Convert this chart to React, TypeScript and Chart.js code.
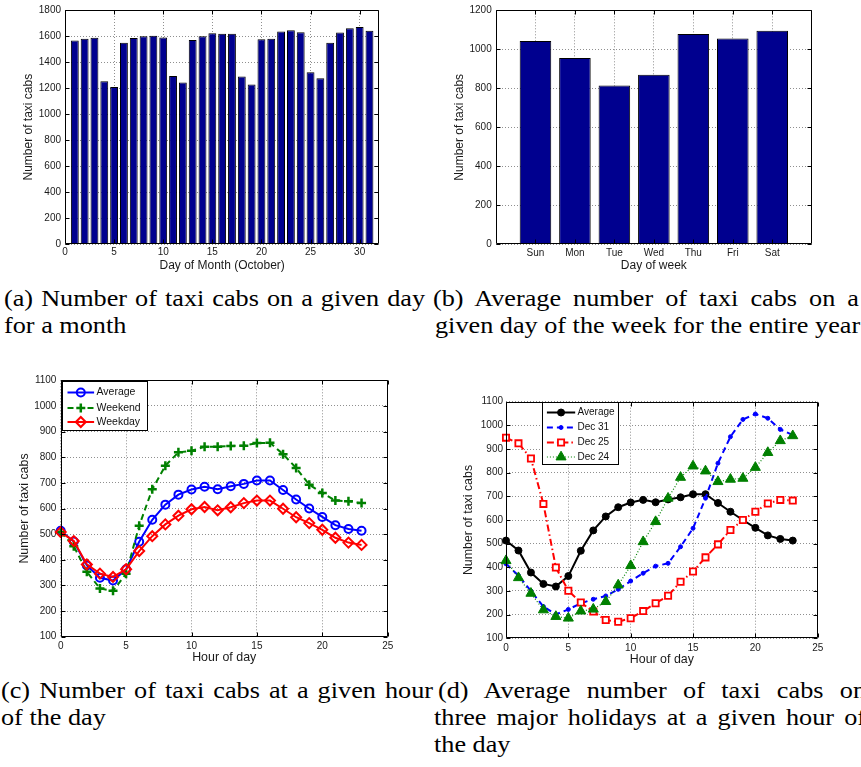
import React, { useEffect, useRef } from 'react';
import { Chart, registerables } from 'chart.js';
import { drawPoint } from 'chart.js/helpers';

Chart.register(...registerables);

const SANS = '"Liberation Sans", Arial, Helvetica, sans-serif';
const SERIF = '"Liberation Serif", "Times New Roman", serif';

// ---------- (a) taxi cabs per day of October ----------
const octoberDays = [1, 2, 3, 4, 5, 6, 7, 8, 9, 10, 11, 12, 13, 14, 15, 16, 17, 18, 19, 20, 21, 22, 23, 24, 25, 26, 27, 28, 29, 30, 31];
const cabsPerDay = [1566, 1579, 1587, 1253, 1208, 1548, 1584, 1599, 1602, 1589, 1292, 1243, 1569, 1599, 1622, 1617, 1617, 1289, 1228, 1576, 1579, 1635, 1645, 1630, 1322, 1276, 1548, 1627, 1660, 1670, 1640];
const dayTicks = [0, 5, 10, 15, 20, 25, 30];
const cabsTicksA = [0, 200, 400, 600, 800, 1000, 1200, 1400, 1600, 1800];

// ---------- (b) average per day of week ----------
const weekDays = ['Sun', 'Mon', 'Tue', 'Wed', 'Thu', 'Fri', 'Sat'];
const weekDayPos = [1, 2, 3, 4, 5, 6, 7];
const cabsPerWeekday = [1042, 956, 814, 869, 1078, 1056, 1095];
const cabsTicksB = [0, 200, 400, 600, 800, 1000, 1200];

// ---------- (c) / (d) per hour ----------
const hours = [0, 1, 2, 3, 4, 5, 6, 7, 8, 9, 10, 11, 12, 13, 14, 15, 16, 17, 18, 19, 20, 21, 22, 23];
const hourTicks = [0, 5, 10, 15, 20, 25];
const cabsTicksHour = [100, 200, 300, 400, 500, 600, 700, 800, 900, 1000, 1100];
const averageHour = [513, 471, 378, 330, 319, 363, 470, 556, 615, 654, 674, 685, 675, 687, 696, 709, 709, 672, 635, 600, 567, 535, 520, 513];
const weekendHour = [508, 453, 353, 288, 279, 346, 533, 675, 767, 819, 825, 841, 841, 844, 845, 855, 856, 812, 758, 693, 660, 631, 628, 621];
const weekdayHour = [508, 473, 382, 346, 333, 363, 434, 492, 538, 572, 597, 606, 593, 605, 621, 631, 631, 599, 566, 543, 517, 486, 467, 458];
const dec31Hour = [415, 365, 300, 234, 201, 222, 248, 265, 279, 307, 342, 375, 405, 417, 487, 565, 692, 840, 952, 1025, 1048, 1030, 983, 959];
const dec25Hour = [948, 924, 860, 668, 399, 301, 251, 213, 177, 170, 185, 215, 248, 280, 339, 382, 442, 497, 558, 600, 635, 670, 685, 682];
const dec24Hour = [428, 356, 290, 220, 192, 185, 215, 223, 255, 325, 407, 508, 593, 692, 780, 828, 807, 762, 772, 776, 822, 885, 935, 956];

const pts = (xs: number[], ys: number[]) => xs.map((x, i) => ({ x, y: ys[i] }));

type AxisCfg = {
  min: number; max: number; tickValues: number[]; labels?: string[];
  title: string; titleSize: number; titlePad: number; tickPad: number; size: number; horizontal: boolean;
};

function axis(c: AxisCfg): any {
  return {
    type: 'linear',
    min: c.min,
    max: c.max,
    offset: false,
    afterBuildTicks: (s: any) => { s.ticks = c.tickValues.map((v) => ({ value: v })); },
    afterFit: (s: any) => { if (c.horizontal) s.height = c.size; else s.width = c.size; },
    ticks: {
      autoSkip: false, maxRotation: 0, minRotation: 0,
      padding: c.tickPad,
      color: '#1a1a1a',
      font: { family: SANS, size: 10 },
      callback: (v: number) => {
        if (c.labels) { const i = c.tickValues.indexOf(v); return i >= 0 ? c.labels[i] : ''; }
        return String(v);
      },
    },
    grid: { display: true, color: '#8f8f8f', lineWidth: 1, drawTicks: false, offset: false },
    border: { display: false, dash: [1, 2] },
    title: {
      display: true, text: c.title, color: '#1a1a1a',
      font: { family: SANS, size: c.titleSize },
      padding: c.horizontal ? { top: 0, bottom: c.titlePad } : { top: c.titlePad, bottom: 0 },
    },
  };
}

type LegendCfg = { dx: number; dy: number; w: number; h: number; rows: number[]; line0: number; line1: number; textX: number; fontSize: number };

function framePlugin(legend?: LegendCfg): any {
  return {
    id: 'matlabFrame',
    afterDraw(chart: any) {
      const { ctx, chartArea: a, scales } = chart;
      const L = Math.round(a.left) + 0.5, R = Math.round(a.right) - 0.5;
      const T = Math.round(a.top) + 0.5, B = Math.round(a.bottom) - 0.5;
      ctx.save();
      ctx.setLineDash([]);
      ctx.strokeStyle = '#000';
      ctx.lineWidth = 1;
      ctx.beginPath();
      ctx.rect(L, T, R - L, B - T);
      ctx.stroke();
      const tl = 4;
      ctx.beginPath();
      for (const t of scales.x.ticks) {
        const p = Math.round(scales.x.getPixelForValue(t.value)) + 0.5;
        ctx.moveTo(p, B); ctx.lineTo(p, B - tl);
        ctx.moveTo(p, T); ctx.lineTo(p, T + tl);
      }
      for (const t of scales.y.ticks) {
        const p = Math.round(scales.y.getPixelForValue(t.value)) + 0.5;
        ctx.moveTo(L, p); ctx.lineTo(L + tl, p);
        ctx.moveTo(R, p); ctx.lineTo(R - tl, p);
      }
      ctx.stroke();

      if (legend) {
        const bx = Math.round(a.left + legend.dx) + 0.5;
        const by = Math.round(a.top + legend.dy) + 0.5;
        ctx.fillStyle = '#fff';
        ctx.fillRect(bx, by, legend.w, legend.h);
        ctx.strokeStyle = '#000';
        ctx.lineWidth = 1;
        ctx.strokeRect(bx, by, legend.w, legend.h);
        chart.data.datasets.forEach((ds: any, i: number) => {
          const y = by + legend.rows[i];
          ctx.save();
          ctx.strokeStyle = ds.borderColor;
          ctx.lineWidth = ds.borderWidth;
          ctx.setLineDash(ds.borderDash || []);
          ctx.beginPath();
          ctx.moveTo(bx + legend.line0, y);
          ctx.lineTo(bx + legend.line1, y);
          ctx.stroke();
          ctx.setLineDash([]);
          ctx.fillStyle = ds.pointBackgroundColor;
          ctx.strokeStyle = ds.pointBorderColor;
          ctx.lineWidth = ds.pointBorderWidth;
          drawPoint(ctx, { pointStyle: ds.pointStyle, radius: ds.pointRadius, borderWidth: ds.pointBorderWidth, rotation: 0 } as any, bx + (legend.line0 + legend.line1) / 2, y);
          ctx.restore();
          ctx.fillStyle = '#111';
          ctx.font = `${legend.fontSize}px ${SANS}`;
          ctx.textBaseline = 'middle';
          ctx.textAlign = 'left';
          ctx.fillText(ds.label, bx + legend.textX, y);
        });
      }
      ctx.restore();
    },
  };
}

const baseOptions = (padding: any) => ({
  responsive: false,
  animation: false as const,
  devicePixelRatio: 1,
  events: [] as any[],
  layout: { padding },
  plugins: { legend: { display: false }, tooltip: { enabled: false } },
});

function configA(): any {
  return {
    type: 'bar',
    data: {
      datasets: [{
        label: 'Number of taxi cabs',
        data: pts(octoberDays, cabsPerDay),
        backgroundColor: '#00008f',
        borderColor: '#000',
        borderWidth: 1,
        barPercentage: 0.8,
        categoryPercentage: 1,
      }],
    },
    options: {
      ...baseOptions({ left: 0, top: 8, right: 50.7, bottom: 0 }),
      scales: {
        x: axis({ min: 0, max: 32, tickValues: dayTicks, title: 'Day of Month (October)', titleSize: 12, titlePad: 7.1, tickPad: 2.3, size: 35.7, horizontal: true }),
        y: axis({ min: 0, max: 1800, tickValues: cabsTicksA, title: 'Number of taxi cabs', titleSize: 12, titlePad: 21.1, tickPad: 4, size: 65, horizontal: false }),
      },
    },
    plugins: [framePlugin()],
  };
}

function configB(): any {
  return {
    type: 'bar',
    data: {
      datasets: [{
        label: 'Number of taxi cabs',
        data: pts(weekDayPos, cabsPerWeekday),
        backgroundColor: '#00008f',
        borderColor: '#000',
        borderWidth: 1,
        barPercentage: 0.8,
        categoryPercentage: 1,
      }],
    },
    options: {
      ...baseOptions({ left: 0, top: 8, right: 49.3, bottom: 0 }),
      scales: {
        x: axis({ min: 0, max: 8, tickValues: weekDayPos, labels: weekDays, title: 'Day of week', titleSize: 12, titlePad: 7.1, tickPad: 3.3, size: 35.7, horizontal: true }),
        y: axis({ min: 0, max: 1200, tickValues: cabsTicksB, title: 'Number of taxi cabs', titleSize: 12, titlePad: 22.8, tickPad: 4.3, size: 66, horizontal: false }),
      },
    },
    plugins: [framePlugin()],
  };
}

const lineBase = { type: 'line', tension: 0, fill: false, clip: false as any, showLine: true };

function configC(): any {
  return {
    type: 'line',
    data: {
      datasets: [
        { ...lineBase, label: 'Average', data: pts(hours, averageHour), borderColor: '#0000ff', borderWidth: 2, pointStyle: 'circle', pointRadius: 4, pointBorderWidth: 2, pointBorderColor: '#0000ff', pointBackgroundColor: 'rgba(255,255,255,0)', order: 3 },
        { ...lineBase, label: 'Weekend', data: pts(hours, weekendHour), borderColor: '#008000', borderWidth: 2, borderDash: [6, 4], pointStyle: 'cross', pointRadius: 4.5, pointBorderWidth: 2.5, pointBorderColor: '#008000', pointBackgroundColor: '#008000', order: 2 },
        { ...lineBase, label: 'Weekday', data: pts(hours, weekdayHour), borderColor: '#ff0000', borderWidth: 2, pointStyle: 'rectRot', pointRadius: 5, pointBorderWidth: 2, pointBorderColor: '#ff0000', pointBackgroundColor: 'rgba(255,255,255,0)', order: 1 },
      ],
    },
    options: {
      ...baseOptions({ left: 0, top: 9.3, right: 42.3, bottom: 0 }),
      scales: {
        x: axis({ min: 0, max: 25, tickValues: hourTicks, title: 'Hour of day', titleSize: 12.4, titlePad: 5.3, tickPad: 3.3, size: 33.3, horizontal: true }),
        y: axis({ min: 100, max: 1100, tickValues: cabsTicksHour, title: 'Number of taxi cabs', titleSize: 12.4, titlePad: 17.6, tickPad: 4.3, size: 60.7, horizontal: false }),
      },
    },
    plugins: [framePlugin({ dx: 1, dy: 1, w: 85, h: 49, rows: [11, 26.5, 40.5], line0: 5, line1: 31.6, textX: 34, fontSize: 10.5 })],
  };
}

function configD(): any {
  return {
    type: 'line',
    data: {
      datasets: [
        { ...lineBase, label: 'Average', data: pts(hours, averageHour), borderColor: '#000000', borderWidth: 2, pointStyle: 'circle', pointRadius: 3.5, pointBorderWidth: 1, pointBorderColor: '#000000', pointBackgroundColor: '#000000', order: 4 },
        { ...lineBase, label: 'Dec 31', data: pts(hours, dec31Hour), borderColor: '#0000ff', borderWidth: 2, borderDash: [6, 4], pointStyle: 'circle', pointRadius: 2, pointBorderWidth: 1, pointBorderColor: '#0000ff', pointBackgroundColor: '#0000ff', order: 3 },
        { ...lineBase, label: 'Dec 25', data: pts(hours, dec25Hour), borderColor: '#ff0000', borderWidth: 2, borderDash: [7, 3, 1.5, 3], pointStyle: 'rect', pointRadius: 4.4, pointBorderWidth: 1.8, pointBorderColor: '#ff0000', pointBackgroundColor: '#ffffff', order: 2 },
        { ...lineBase, label: 'Dec 24', data: pts(hours, dec24Hour), borderColor: '#008000', borderWidth: 1.2, borderDash: [1, 2], pointStyle: 'triangle', pointRadius: 5.8, pointBorderWidth: 1, pointBorderColor: '#008000', pointBackgroundColor: '#008000', order: 1 },
      ],
    },
    options: {
      ...baseOptions({ left: 0, top: 21.7, right: 43.3, bottom: 0 }),
      scales: {
        x: axis({ min: 0, max: 25, tickValues: hourTicks, title: 'Hour of day', titleSize: 12.4, titlePad: 2.6, tickPad: 4, size: 31.7, horizontal: true }),
        y: axis({ min: 100, max: 1100, tickValues: cabsTicksHour, title: 'Number of taxi cabs', titleSize: 12.4, titlePad: 31.6, tickPad: 3, size: 76, horizontal: false }),
      },
    },
    plugins: [framePlugin({ dx: 36.3, dy: 0, w: 76, h: 62, rows: [10, 25, 40, 54.5], line0: 4.4, line1: 32.7, textX: 35, fontSize: 10 })],
  };
}

function ChartBox(props: { left: number; top: number; width: number; height: number; make: () => any }) {
  const ref = useRef<HTMLCanvasElement>(null);
  useEffect(() => {
    const chart = new Chart(ref.current as HTMLCanvasElement, props.make());
    return () => chart.destroy();
  }, []);
  return (
    <canvas
      ref={ref}
      width={props.width}
      height={props.height}
      style={{ position: 'absolute', left: props.left, top: props.top, width: props.width, height: props.height }}
    />
  );
}

const SCALE_X = 1.14;
function CapLine(props: { text: string; left: number; baseline: number; width?: number }) {
  const style: React.CSSProperties = {
    position: 'absolute',
    left: props.left,
    top: props.baseline - 15.3,
    fontFamily: SERIF,
    fontSize: 23,
    lineHeight: '23px',
    color: '#000',
    transform: `scaleX(${SCALE_X})`,
    transformOrigin: '0 0',
    whiteSpace: props.width ? 'normal' : 'nowrap',
  };
  if (props.width) {
    style.width = props.width / SCALE_X;
    style.textAlign = 'justify';
    (style as any).textAlignLast = 'justify';
  }
  return <div style={style}>{props.text}</div>;
}

export default function App() {
  return (
    <div style={{ position: 'absolute', left: 0, top: 0, width: 861, height: 767, overflow: 'hidden', background: '#fff' }}>
      <ChartBox left={0} top={0} width={430} height={280} make={configA} />
      <ChartBox left={430} top={0} width={431} height={280} make={configB} />
      <ChartBox left={0} top={370} width={430} height={300} make={configC} />
      <ChartBox left={430} top={380} width={431} height={290} make={configD} />

      <CapLine text="(a) Number of taxi cabs on a given day" left={4} baseline={302} width={421} />
      <CapLine text="for a month" left={4} baseline={329} />
      <CapLine text="(b) Average number of taxi cabs on a" left={433} baseline={302} width={426} />
      <CapLine text="given day of the week for the entire year" left={435} baseline={329} />

      <CapLine text="(c) Number of taxi cabs at a given hour" left={1} baseline={694.5} width={432} />
      <CapLine text="of the day" left={1} baseline={721.7} />
      <CapLine text="(d) Average number of taxi cabs on" left={438} baseline={694.5} width={428} />
      <CapLine text="three major holidays at a given hour of" left={434} baseline={721.7} width={432} />
      <CapLine text="the day" left={434} baseline={748.7} />
    </div>
  );
}
